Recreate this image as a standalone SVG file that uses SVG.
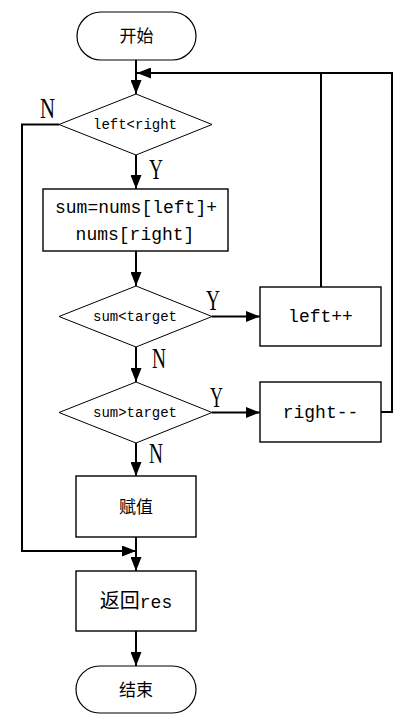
<svg xmlns="http://www.w3.org/2000/svg" width="418" height="722" viewBox="0 0 418 722">
<style>
.term{fill:#fff;stroke:#000;stroke-width:1.2}
.box{fill:#fff;stroke:#000;stroke-width:1.4}
.dia{fill:#fff;stroke:#000;stroke-width:1}
.line{fill:none;stroke:#000;stroke-width:2}
.cn{font-family:"Noto Sans CJK SC",sans-serif;font-size:17px;fill:#000;text-anchor:middle}
.mono{font-family:"Liberation Mono","Noto Sans CJK SC",monospace;fill:#000;text-anchor:middle}
.yn{font-family:"Liberation Serif",serif;font-size:29px;fill:#000}
</style>
<defs>
<marker id="arr" markerUnits="userSpaceOnUse" markerWidth="15" markerHeight="11" refX="14" refY="5.5" orient="auto">
<path d="M0,0 L14,5.5 L0,11 z" fill="#000"/>
</marker>
</defs>
<g id="connectors">
<path class="line" d="M136,60 V94" marker-end="url(#arr)"/>
<path class="line" d="M381,412 H392 V73 H137" marker-end="url(#arr)"/>
<path class="line" d="M321,287 V73"/>
<path class="line" d="M136,155 V189" marker-end="url(#arr)"/>
<path class="line" d="M59,124.5 H22 V551 H136" marker-end="url(#arr)"/>
<path class="line" d="M136,251 V286" marker-end="url(#arr)"/>
<path class="line" d="M212,316.5 H260" marker-end="url(#arr)"/>
<path class="line" d="M136,347 V382" marker-end="url(#arr)"/>
<path class="line" d="M212,412.5 H260" marker-end="url(#arr)"/>
<path class="line" d="M136,443 V476" marker-end="url(#arr)"/>
<path class="line" d="M136,537 V571" marker-end="url(#arr)"/>
<path class="line" d="M136,631 V666" marker-end="url(#arr)"/>
<text class="yn" x="40" y="118" textLength="15" lengthAdjust="spacingAndGlyphs">N</text>
<text class="yn" x="149" y="179" textLength="14" lengthAdjust="spacingAndGlyphs">Y</text>
<text class="yn" x="206" y="310" textLength="14" lengthAdjust="spacingAndGlyphs">Y</text>
<text class="yn" x="152" y="368" textLength="14" lengthAdjust="spacingAndGlyphs">N</text>
<text class="yn" x="210" y="407" textLength="13" lengthAdjust="spacingAndGlyphs">Y</text>
<text class="yn" x="149" y="463" textLength="14" lengthAdjust="spacingAndGlyphs">N</text>
</g>
<g id="start">
<rect class="term" x="77" y="12" width="119" height="48" rx="24" ry="24"/>
<text class="cn" x="136.5" y="42">开始</text>
</g>
<g id="cond1">
<polygon class="dia" points="136,94 212,124.5 136,155 59,124.5"/>
<text class="mono" x="135" y="129" font-size="14">left&lt;right</text>
</g>
<g id="sum">
<rect class="box" x="43" y="189" width="185" height="62"/>
<text class="mono" x="136" y="213" font-size="18">sum=nums[left]+</text>
<text class="mono" x="135" y="240" font-size="18">nums[right]</text>
</g>
<g id="cond2">
<polygon class="dia" points="136,286 212,316.5 136,347 59,316.5"/>
<text class="mono" x="135" y="321" font-size="14">sum&lt;target</text>
</g>
<g id="leftpp">
<rect class="box" x="260" y="287" width="121" height="59"/>
<text class="mono" x="320.5" y="322" font-size="18">left++</text>
</g>
<g id="cond3">
<polygon class="dia" points="136,382 212,412.5 136,443 59,412.5"/>
<text class="mono" x="135" y="417" font-size="14">sum&gt;target</text>
</g>
<g id="rightmm">
<rect class="box" x="260" y="382" width="121" height="60"/>
<text class="mono" x="320.5" y="418" font-size="18">right--</text>
</g>
<g id="assign">
<rect class="box" x="76" y="476" width="120" height="61"/>
<text class="cn" x="136" y="513" font-size="20">赋值</text>
</g>
<g id="ret">
<rect class="box" x="76" y="571" width="120" height="60"/>
<text x="136" y="608" text-anchor="middle" fill="#000"><tspan font-family="Noto Sans CJK SC,sans-serif" font-size="20">返回</tspan><tspan font-family="Liberation Mono,monospace" font-size="18">res</tspan></text>
</g>
<g id="end">
<rect class="term" x="76" y="666" width="120" height="47" rx="23.5" ry="23.5"/>
<text class="cn" x="136" y="696">结束</text>
</g>
</svg>
